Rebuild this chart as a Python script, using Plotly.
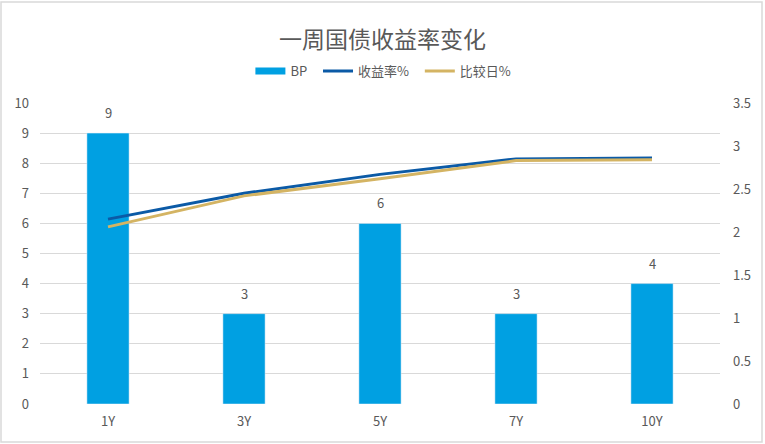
import plotly.graph_objects as go

categories = ["1Y", "3Y", "5Y", "7Y", "10Y"]
bp_values = [9, 3, 6, 3, 4]
yield_values = [2.15, 2.45, 2.67, 2.85, 2.86]
compare_values = [2.06, 2.42, 2.62, 2.83, 2.84]

font_family = "Noto Sans CJK SC, Noto Sans, sans-serif"
gray = "#595959"
bar_color = "#00A0E2"

fig = go.Figure()
fig.add_trace(go.Bar(
    x=categories, y=bp_values, name="BP", showlegend=False,
    marker=dict(color=bar_color),
))
# legend entry for bars drawn as a wide band, like the original
fig.add_trace(go.Scatter(
    x=[None], y=[None], name="BP  ", mode="lines",
    line=dict(color=bar_color, width=7),
))
fig.add_trace(go.Scatter(
    x=categories, y=yield_values, name="收益率%  ", yaxis="y2",
    mode="lines", line=dict(color="#0B5AA6", width=3),
))
fig.add_trace(go.Scatter(
    x=categories, y=compare_values, name="比较日%", yaxis="y2",
    mode="lines", line=dict(color="#D4B463", width=3),
))

annotations = [
    dict(x=c, y=v, xref="x", yref="y", text=str(v), showarrow=False,
         yanchor="bottom", yshift=9, font=dict(size=13, color=gray))
    for c, v in zip(categories, bp_values)
]

fig.update_layout(
    width=765, height=444,
    margin=dict(l=40, r=45, t=103, b=40),
    paper_bgcolor="white", plot_bgcolor="white",
    font=dict(family=font_family, size=13, color=gray),
    title=dict(text="一周国债收益率变化", x=0.5, xanchor="center",
               y=1 - 40 / 444, yanchor="middle",
               font=dict(size=23, color=gray)),
    legend=dict(orientation="h", x=0.505, xanchor="center",
                y=1 + 32 / 301, yanchor="middle",
                font=dict(size=13, color=gray)),
    bargap=0.69,
    annotations=annotations,
    xaxis=dict(showgrid=False, showline=False, ticks="",
               ticklabelstandoff=8,
               tickfont=dict(size=13, color=gray)),
    yaxis=dict(range=[0, 10], dtick=1, gridcolor="#D9D9D9", gridwidth=1,
               zeroline=False, showline=False, ticks="",
               ticklabelstandoff=10,
               tickfont=dict(size=13, color=gray)),
    yaxis2=dict(range=[0, 3.5], dtick=0.5, overlaying="y", side="right",
                showgrid=False, zeroline=False, showline=False, ticks="",
                ticklabelstandoff=12,
                tickfont=dict(size=13, color=gray)),
    shapes=[dict(type="rect", xref="paper", yref="paper",
                 x0=-39 / 680, x1=1 + 42 / 680,
                 y0=-38 / 301, y1=1 + 101 / 301,
                 line=dict(color="#D9D9D9", width=1.5), layer="below")],
)

fig.write_html("out.html")
